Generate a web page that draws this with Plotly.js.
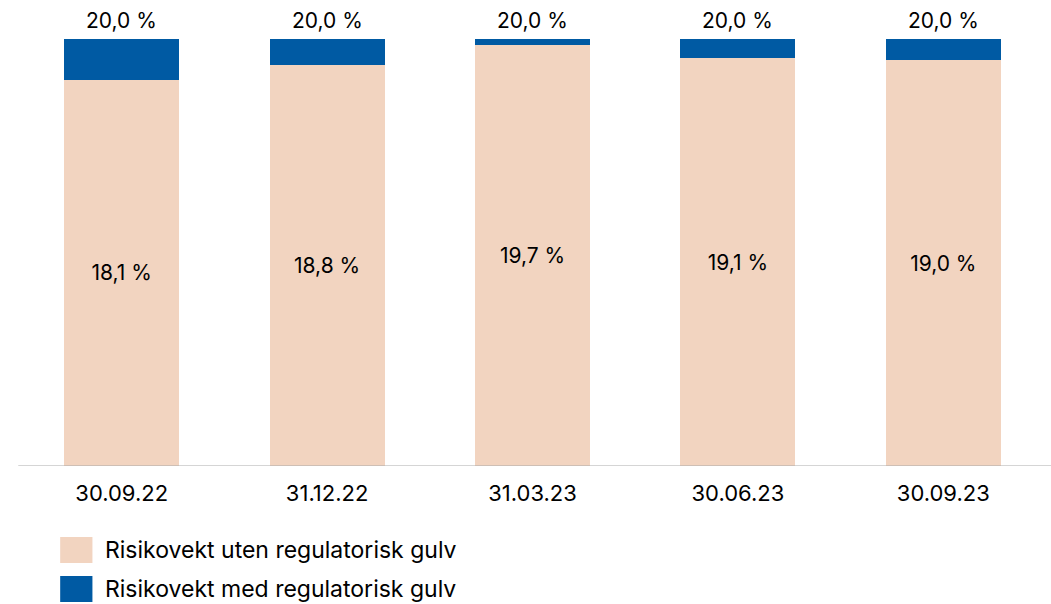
<!DOCTYPE html>
<html>
<head>
<meta charset="utf-8">
<script src="https://cdn.plot.ly/plotly-3.0.1.min.js"></script>
<style>html,body{margin:0;padding:0;background:#fff;}#chart{width:1051px;height:604px;}</style>
</head>
<body>
<div id="chart"></div>
<script>
const categories = ["30.09.22", "31.12.22", "31.03.23", "30.06.23", "30.09.23"];
const utenGulv = [18.1, 18.8, 19.7, 19.1, 19.0];
const medGulv = [20.0, 20.0, 20.0, 20.0, 20.0];
const seriesNames = ["Risikovekt uten regulatorisk gulv", "Risikovekt med regulatorisk gulv"];
const colors = ["#F2D4C0", "#005AA3"];

const fmt = v => v.toFixed(1).replace(".", ",") + " %";
const diff = medGulv.map((v, i) => +(v - utenGulv[i]).toFixed(2));

const font = "Inter, 'Noto Sans', sans-serif";

const traces = [
  {
    type: "bar", x: categories, y: utenGulv, name: seriesNames[0],
    marker: {color: colors[0]}, width: 0.56,
    text: utenGulv.map(fmt), textposition: "inside", insidetextanchor: "middle",
    textfont: {family: font, size: 21, color: "#000"}, hoverinfo: "x+y",
    showlegend: false
  },
  {
    type: "bar", x: categories, y: diff, name: seriesNames[1],
    marker: {color: colors[1]}, width: 0.56, hoverinfo: "x+y",
    showlegend: false
  }
];

const annotations = categories.map((c, i) => ({
  x: c, y: medGulv[i], xref: "x", yref: "y", text: fmt(medGulv[i]),
  showarrow: false, yanchor: "bottom", yshift: 4,
  font: {family: font, size: 21, color: "#000"}
}));

// legend (drawn manually)
const lx0 = 0.0401, lx1 = 0.0715;
const legendRows = [{y0: -0.1663, y1: -0.2272, ty: -0.1967}, {y0: -0.2576, y1: -0.3185, ty: -0.288}];
const shapes = [
  {type: "line", xref: "paper", yref: "y", x0: -0.0007, x1: 1.006, y0: 0, y1: 0,
   line: {color: "#aaaaaa", width: 1}}
];
legendRows.forEach((r, i) => {
  shapes.push({type: "rect", xref: "paper", yref: "paper", x0: lx0, x1: lx1, y0: r.y0, y1: r.y1,
    fillcolor: colors[i], line: {width: 0}});
  annotations.push({xref: "paper", yref: "paper", x: 0.0822, y: r.ty, xanchor: "left", yanchor: "middle",
    text: seriesNames[i], showarrow: false, font: {family: font, size: 23, color: "#000"}});
});

const layout = {
  width: 1051, height: 604,
  margin: {l: 19, r: 5, t: 39, b: 138},
  barmode: "stack",
  paper_bgcolor: "#fff", plot_bgcolor: "#fff",
  font: {family: font, color: "#000"},
  xaxis: {type: "category", showgrid: false, zeroline: false, showline: false, ticks: "",
    ticklabelstandoff: 12,
    tickfont: {family: font, size: 22, color: "#000"}, fixedrange: true},
  yaxis: {range: [0, 20], visible: false, fixedrange: true},
  annotations: annotations,
  shapes: shapes,
  showlegend: false
};

Plotly.newPlot("chart", traces, layout, {displayModeBar: false, staticPlot: true});
</script>
</body>
</html>
